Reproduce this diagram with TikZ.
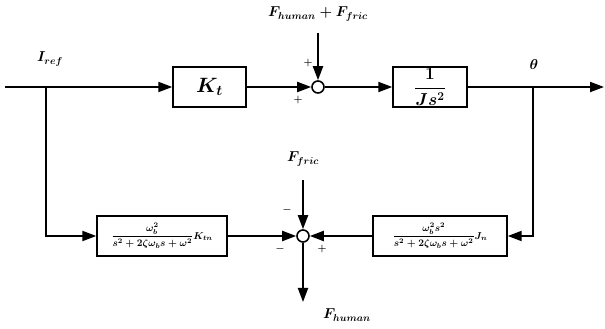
\documentclass[tikz,border=0pt]{standalone}
\usepackage{amsmath,amssymb}
\usepackage{tikz}
\usetikzlibrary{calc,arrows.meta,positioning}

\tikzset{
  blk/.style={draw,line width=1.4pt,fill=white,inner sep=1pt,font=\LARGE\boldmath},
  filt/.style={draw,line width=1.4pt,fill=white,inner sep=1pt,font=\fontsize{10.4}{12}\selectfont\boldmath},
  sumpt/.style={draw,circle,line width=1.6pt,minimum size=12pt,inner sep=0pt,fill=white},
  lbl/.style={font=\Large\boldmath},
  sgn/.style={font=\normalsize\bfseries}
}

\begin{document}
\begin{tikzpicture}[x=1pt,y=1pt,>={Triangle[length=14pt,width=10pt]},line width=2pt]
  \useasboundingbox (0,0) rectangle (605,329);
  % camino directo
  \coordinate (src) at (5,242);
  \coordinate (brL) at (46,242);
  \node[blk,font=\huge\boldmath,minimum width=73pt,minimum height=40pt] (Kt) at (209.5,242) {$K_t$};
  \node[sumpt] (s1) at (318,242) {};
  \node[blk,minimum width=74pt,minimum height=40pt] (G) at (430,242) {$\dfrac{1}{Js^2}$};
  \coordinate (brR) at (533,242);
  \coordinate (out) at (604,242);
  \coordinate (dist) at (318,296);
  % observador
  \node[filt,minimum width=130pt,minimum height=40pt] (Fk) at (162,93)
        {$\dfrac{\omega_b^2}{s^2+2\zeta\omega_b s+\omega^2}K_{tn}$};
  \node[filt,minimum width=134pt,minimum height=40pt] (Fj) at (440,93)
        {$\dfrac{\omega_b^2 s^2}{s^2+2\zeta\omega_b s+\omega^2}J_n$};
  \node[sumpt] (s2) at (303,93) {};
  \coordinate (fric) at (303,149);
  \coordinate (hum) at (303,27);
  % lineas
  \draw (src) -- (brL);
  \draw[->] (brL) -- (Kt);
  \draw[->] (Kt) -- (s1);
  \draw[->] (dist) -- (s1);
  \draw[->] (s1) -- (G);
  \draw (G) -- (brR);
  \draw[->] (brR) -- (out);
  \draw[->] (brL) |- (Fk);
  \draw[->] (brR) |- (Fj);
  \draw[->] (Fk) -- (s2);
  \draw[->] (Fj) -- (s2);
  \draw[->] (fric) -- (s2);
  \draw[->] (s2) -- (hum);
  % etiquetas
  \node[lbl] (lIref) at (50,270) {$I_{ref}$};
  \node[lbl] (ltheta) at (534,264) {$\theta$};
  \node[lbl] (ldist) at (318,315) {$F_{human}+F_{fric}$};
  \node[lbl] (lfric) at (303,170) {$F_{fric}$};
  \node[lbl] (lhum) at (347,14) {$F_{human}$};
  \node[sgn] (p1) at (308,266) {+};
  \node[sgn] (p2) at (298,229) {+};
  \node[sgn] (m1) at (287,119) {$\boldsymbol{-}$};
  \node[sgn] (m2) at (280,80) {$\boldsymbol{-}$};
  \node[sgn] (p3) at (322,80) {+};
\end{tikzpicture}
\end{document}
